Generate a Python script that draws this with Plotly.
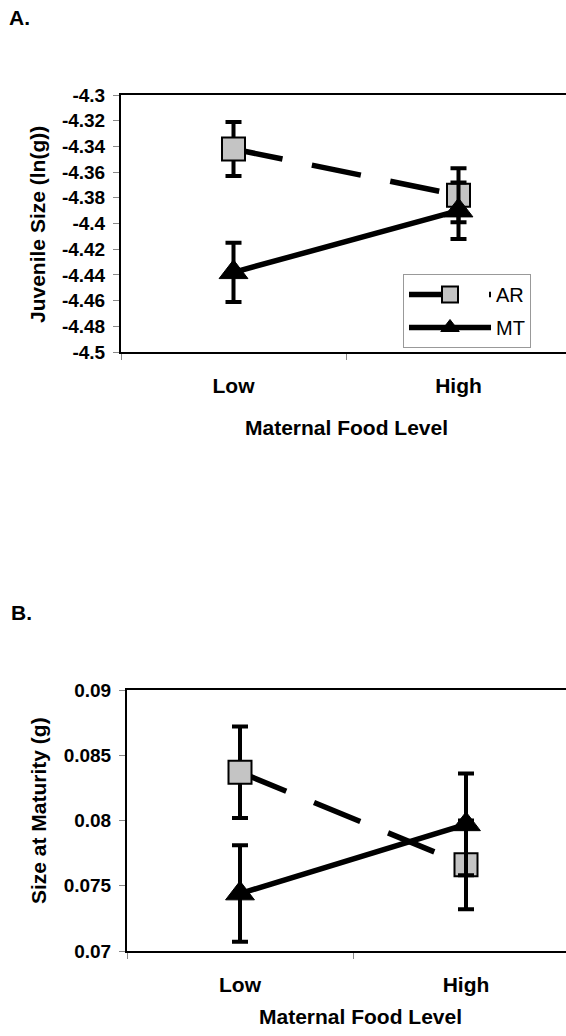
import plotly.graph_objects as go

# Maternal food treatment levels
categories = ["Low", "High"]

# Panel A: juvenile size, ln(g) (mean and error)
juv_ar_mean = [-4.342, -4.378]
juv_ar_err = [0.021, 0.021]
juv_mt_mean = [-4.438, -4.390]
juv_mt_err = [0.023, 0.022]

# Panel B: size at maturity, g (mean and error)
mat_ar_mean = [0.0837, 0.0766]
mat_ar_err = [0.0035, 0.0034]
mat_mt_mean = [0.0744, 0.0797]
mat_mt_err = [0.0037, 0.0039]

# Axis tick values / labels
juv_ticks = [-4.5, -4.48, -4.46, -4.44, -4.42, -4.4, -4.38, -4.36, -4.34, -4.32, -4.3]
juv_ticktext = ["-4.5", "-4.48", "-4.46", "-4.44", "-4.42", "-4.4", "-4.38", "-4.36", "-4.34", "-4.32", "-4.3"]
mat_ticks = [0.07, 0.075, 0.08, 0.085, 0.09]
mat_ticktext = ["0.07", "0.075", "0.08", "0.085", "0.09"]

W, H = 566, 1036
FONT = "Liberation Sans, Arial, sans-serif"
SQUARE_FILL = "#c4c4c4"


def px_x(p):
    return p / W


def px_y(p):
    return 1 - p / H


def err(arr):
    return dict(type="data", array=arr, visible=True, color="black", thickness=4, width=8)


def ar_trace(y, e, xa, ya, show):
    return go.Scatter(
        x=categories, y=y, name="AR", xaxis=xa, yaxis=ya, showlegend=show,
        mode="lines+markers", legendgroup="AR",
        line=dict(color="black", width=5.5, dash="50px,30px"),
        marker=dict(symbol="square", size=23, color=SQUARE_FILL,
                    line=dict(color="black", width=2)),
        error_y=err(e),
    )


def mt_trace(y, e, xa, ya, show):
    return go.Scatter(
        x=categories, y=y, name="MT", xaxis=xa, yaxis=ya, showlegend=show,
        mode="lines+markers", legendgroup="MT",
        line=dict(color="black", width=5.5),
        marker=dict(symbol="triangle-up", size=25, color="black",
                    line=dict(color="black", width=1)),
        error_y=err(e),
    )


fig = go.Figure()
fig.add_trace(ar_trace(juv_ar_mean, juv_ar_err, "x", "y", True))
fig.add_trace(mt_trace(juv_mt_mean, juv_mt_err, "x", "y", True))
fig.add_trace(ar_trace(mat_ar_mean, mat_ar_err, "x2", "y2", False))
fig.add_trace(mt_trace(mat_mt_mean, mat_mt_err, "x2", "y2", False))

tick_font = dict(family=FONT, size=19, color="black", weight="bold")
cat_font = dict(family=FONT, size=21, color="black", weight="bold")

# Panel geometry in pixels
A_left, A_top, A_bottom = 121, 95, 352
B_left, B_top, B_bottom = 127, 690, 951
A_cat_w, B_cat_w = 225, 226


def xaxis_cfg(left, cat_w, anchor):
    return dict(
        domain=[px_x(left), 1.0], anchor=anchor, type="category",
        range=[-0.5, -0.5 + (W - left) / cat_w], automargin=False,
        showline=True, linecolor="black", linewidth=2, mirror=True,
        ticks="outside", tickson="boundaries", ticklen=6, tickcolor="#888",
        tickwidth=1, showgrid=False, zeroline=False,
        tickfont=cat_font, ticklabelstandoff=14,
    )


def yaxis_cfg(top, bottom, rng, vals, text, anchor):
    return dict(
        domain=[px_y(bottom), px_y(top)], anchor=anchor, range=rng,
        automargin=False,
        tickmode="array", tickvals=vals, ticktext=text,
        showline=True, linecolor="black", linewidth=2, mirror=False,
        ticks="outside", ticklen=6, tickcolor="#888", tickwidth=1,
        showgrid=False, zeroline=False, tickfont=tick_font,
        ticklabelstandoff=4,
    )


fig.update_layout(
    width=W, height=H,
    margin=dict(l=0, r=0, t=0, b=0, autoexpand=False),
    paper_bgcolor="white", plot_bgcolor="white",
    font=dict(family=FONT, color="black"),
    xaxis=xaxis_cfg(A_left, A_cat_w, "y"),
    yaxis=yaxis_cfg(A_top, A_bottom, [-4.5, -4.3], juv_ticks, juv_ticktext, "x"),
    xaxis2=xaxis_cfg(B_left, B_cat_w, "y2"),
    yaxis2=yaxis_cfg(B_top, B_bottom, [0.07, 0.09], mat_ticks, mat_ticktext, "x2"),
    legend=dict(
        x=px_x(531), y=px_y(348), xanchor="right", yanchor="bottom",
        bordercolor="#999", borderwidth=1, bgcolor="white",
        font=dict(family=FONT, size=20, color="black"),
        itemwidth=82, tracegroupgap=4,
    ),
    showlegend=True,
)

title_font = dict(family=FONT, size=21, color="black", weight="bold")
panel_font = dict(family=FONT, size=21, color="black", weight="bold")

annotations = [
    dict(text="A.", x=px_x(19), y=px_y(18), font=panel_font),
    dict(text="B.", x=px_x(21), y=px_y(612), font=panel_font),
    dict(text="Juvenile Size (ln(g))", x=px_x(38), y=px_y(225), textangle=-90, font=title_font),
    dict(text="Size at Maturity (g)", x=px_x(38), y=px_y(811), textangle=-90, font=title_font),
    dict(text="Maternal Food Level", x=px_x(346), y=px_y(427), font=title_font),
    dict(text="Maternal Food Level", x=px_x(360), y=px_y(1016), font=title_font),
]
for a in annotations:
    a.update(xref="paper", yref="paper", xanchor="center", yanchor="middle", showarrow=False)
fig.update_layout(annotations=annotations)

fig.write_html("out.html")
